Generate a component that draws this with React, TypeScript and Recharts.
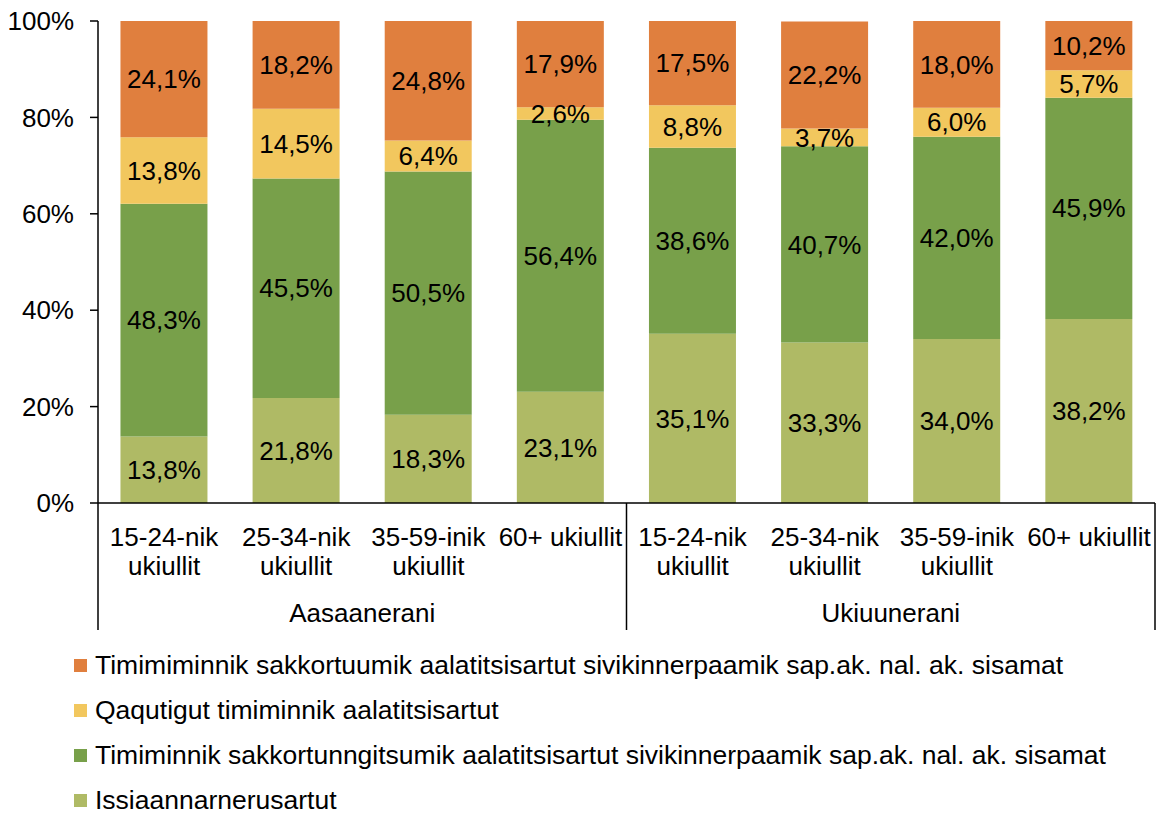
import { BarChart, Bar, XAxis, YAxis, LabelList } from 'recharts';

// categories
const regions = ['Aasaanerani', 'Ukiuunerani'];
const ageLabels = [
  ['15-24-nik', 'ukiullit'],
  ['25-34-nik', 'ukiullit'],
  ['35-59-inik', 'ukiullit'],
  ['60+ ukiullit'],
];

// series values (%), Aasaanerani first 4, Ukiuunerani last 4
const issiaannarnerusartut = [13.8, 21.8, 18.3, 23.1, 35.1, 33.3, 34.0, 38.2];
const sakkortunngitsumik = [48.3, 45.5, 50.5, 56.4, 38.6, 40.7, 42.0, 45.9];
const qaqutigut = [13.8, 14.5, 6.4, 2.6, 8.8, 3.7, 6.0, 5.7];
const sakkortuumik = [24.1, 18.2, 24.8, 17.9, 17.5, 22.2, 18.0, 10.2];

const yTicks = [0, 20, 40, 60, 80, 100];

// bottom of stack first
const series = [
  { key: 's1', name: 'Issiaannarnerusartut', color: '#AFBA65', values: issiaannarnerusartut },
  { key: 's2', name: 'Timiminnik sakkortunngitsumik aalatitsisartut sivikinnerpaamik sap.ak. nal. ak. sisamat', color: '#78A04A', values: sakkortunngitsumik },
  { key: 's3', name: 'Qaqutigut timiminnik aalatitsisartut', color: '#F2C75E', values: qaqutigut },
  { key: 's4', name: 'Timimiminnik sakkortuumik aalatitsisartut sivikinnerpaamik sap.ak. nal. ak. sisamat', color: '#E07F3E', values: sakkortuumik },
];

const rows = regions.flatMap((region, r) =>
  ageLabels.map((lines, a) => {
    const i = r * ageLabels.length + a;
    const row: Record<string, any> = { id: String(i), region, lines };
    series.forEach((s) => (row[s.key] = s.values[i]));
    return row;
  })
);

const FONT = '"Liberation Sans", Arial, sans-serif';
const FS = 26;
const fmt = (v: any) => `${Number(v).toFixed(1).replace('.', ',')}%`;

function CategoryTick(props: any) {
  const { x, y, index, width, visibleTicksCount } = props;
  const slot = (width ?? 1057) / (visibleTicksCount ?? rows.length);
  const row = rows[index];
  const perGroup = ageLabels.length;
  const pos = index % perGroup;
  return (
    <g>
      {row.lines.map((line: string, k: number) => (
        <text key={k} x={x} y={y + 34 + k * 29} dy="0.35em" textAnchor="middle" fontSize={FS} fill="#000" fontFamily={FONT}>
          {line}
        </text>
      ))}
      {pos === 0 && <line x1={x - slot / 2} x2={x - slot / 2} y1={y} y2={y + 127} stroke="#000" strokeWidth={1.5} />}
      {index === rows.length - 1 && <line x1={x + slot / 2} x2={x + slot / 2} y1={y} y2={y + 127} stroke="#000" strokeWidth={1.5} />}
      {pos === 1 && (
        <text x={x + slot / 2} y={y + 110} dy="0.35em" textAnchor="middle" fontSize={FS} fill="#000" fontFamily={FONT}>
          {row.region}
        </text>
      )}
    </g>
  );
}

export default function App() {
  return (
    <div style={{ position: 'absolute', left: 0, top: 0, width: 1159, height: 816, background: '#fff', fontFamily: FONT, overflow: 'hidden' }}>
      <BarChart
        width={1159}
        height={640}
        data={rows}
        margin={{ top: 21, right: 4, left: 0, bottom: 0 }}
        barCategoryGap="17%"
      >
        <XAxis
          dataKey="id"
          height={137}
          interval={0}
          tickLine={false}
          tickSize={0}
          tickMargin={0}
          axisLine={{ stroke: '#000', strokeWidth: 1.5 }}
          tick={<CategoryTick />}
        />
        <YAxis
          width={98}
          domain={[0, 100]}
          ticks={yTicks}
          tickFormatter={(v) => `${v}%`}
          tickSize={8}
          tickMargin={16}
          axisLine={{ stroke: '#000', strokeWidth: 1.5 }}
          tickLine={{ stroke: '#000', strokeWidth: 1.5 }}
          tick={{ fontSize: FS, fill: '#000', fontFamily: FONT }}
        />
        {series.map((s) => (
          <Bar key={s.key} dataKey={s.key} name={s.name} stackId="a" fill={s.color} isAnimationActive={false}>
            <LabelList dataKey={s.key} position="center" formatter={fmt} fill="#000" fontSize={FS} fontFamily={FONT} />
          </Bar>
        ))}
      </BarChart>
      <div style={{ position: 'absolute', left: 74, top: 650 }}>
        {[...series].reverse().map((s, i) => (
          <div
            key={s.key}
            style={{ display: 'flex', alignItems: 'center', height: 30, lineHeight: '30px', marginTop: i === 0 ? 0 : 15, fontSize: 26.5, color: '#000' }}
          >
            <span style={{ width: 13, height: 13, background: s.color, marginRight: 8, flexShrink: 0 }} />
            <span style={{ whiteSpace: 'nowrap' }}>{s.name}</span>
          </div>
        ))}
      </div>
    </div>
  );
}
